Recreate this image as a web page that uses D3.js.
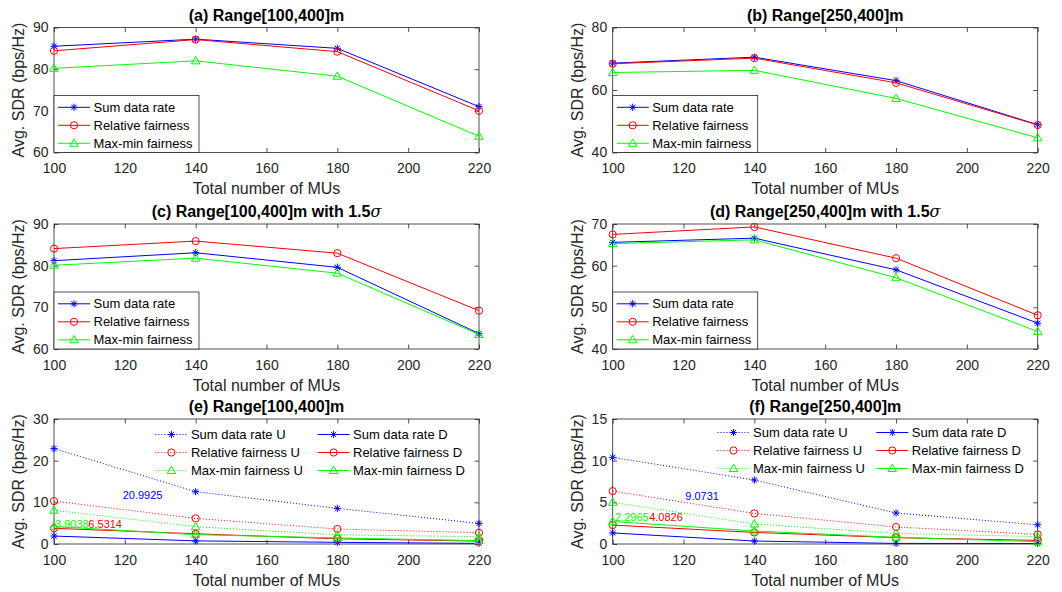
<!DOCTYPE html>
<html>
<head>
<meta charset="utf-8">
<script src="https://cdn.jsdelivr.net/npm/d3@7"></script>
<style>
  html, body { margin: 0; padding: 0; background: #fff; }
  svg { display: block; font-family: "Liberation Sans", Arial, Helvetica, sans-serif; }
</style>
</head>
<body>
<div id="chart"></div>
<script>
// ---- data ----
const mus = [100, 140, 180, 220];
const muTicks = [100, 120, 140, 160, 180, 200, 220];

// (a) Range[100,400]m
const sumRateA = [85.5, 87.2, 85.0, 71.0];
const relFairA = [84.4, 87.1, 84.2, 70.0];
const maxMinA  = [80.2, 82.0, 78.3, 63.9];
const yTicksA  = [60, 70, 80, 90];

// (b) Range[250,400]m
const sumRateB = [68.6, 70.5, 63.0, 48.9];
const relFairB = [68.4, 70.2, 62.3, 48.8];
const maxMinB  = [65.6, 66.3, 57.3, 44.7];
const yTicksB  = [40, 60, 80];

// (c) Range[100,400]m with 1.5 sigma
const sumRateC = [81.2, 83.1, 79.6, 63.7];
const relFairC = [84.1, 85.9, 83.0, 69.2];
const maxMinC  = [80.1, 81.8, 78.2, 63.5];
const yTicksC  = [60, 70, 80, 90];

// (d) Range[250,400]m with 1.5 sigma
const sumRateD = [65.6, 66.6, 59.0, 46.2];
const relFairD = [67.5, 69.3, 61.8, 48.1];
const maxMinD  = [65.3, 66.2, 57.1, 44.2];
const yTicksD  = [40, 50, 60, 70];

// (e) Range[100,400]m, uplink (U) and downlink (D)
const sumRateUpE = [22.9, 12.55, 8.55, 4.95];
const relFairUpE = [10.3, 6.15, 3.6, 2.7];
const maxMinUpE  = [8.1, 4.15, 2.2, 1.75];
const sumRateDnE = [1.9075, 0.75, 0.4, 0.15];
const relFairDnE = [3.7686, 2.45, 1.25, 0.7];
const maxMinDnE  = [4.1962, 2.25, 1.45, 0.8];
const yTicksE    = [0, 10, 20, 30];
const gapLabelsE = ["20.9925", "3.9038", "6.5314"];

// (f) Range[250,400]m, uplink (U) and downlink (D)
const sumRateUpF = [10.4, 7.68, 3.72, 2.3];
const relFairUpF = [6.35, 3.67, 2.04, 1.15];
const maxMinUpF  = [5.0, 2.4, 1.27, 0.88];
const sumRateDnF = [1.3269, 0.36, 0.07, 0.06];
const relFairDnF = [2.2674, 1.39, 0.76, 0.43];
const maxMinDnF  = [2.7035, 1.56, 0.8, 0.28];
const yTicksF    = [0, 5, 10, 15];
const gapLabelsF = ["9.0731", "2.2965", "4.0826"];

const seriesNames = ["Sum data rate", "Relative fairness", "Max-min fairness"];
const seriesColors = ["#0000ff", "#ff0000", "#00ff00"];
const seriesMarkers = ["star", "circle", "triangle"];

// ---- layout ----
const W = 1062, H = 592;
const AW = 425, AH = 125;
const colLeft = [54, 612.7];
const rowTop = [27.5, 224, 419];
const INK = "#262626";

const svg = d3.select("#chart").append("svg")
  .attr("width", W).attr("height", H)
  .attr("viewBox", `0 0 ${W} ${H}`);
svg.append("rect").attr("width", W).attr("height", H).attr("fill", "#fff");

function triple(a, b, c) {
  return [a, b, c].map((v, i) => ({
    name: seriesNames[i], values: v, color: seriesColors[i],
    marker: seriesMarkers[i], dotted: false
  }));
}
function updown(su, ru, mu, sd, rd, md) {
  const ups = [su, ru, mu].map((v, i) => ({
    name: seriesNames[i] + " U", values: v, color: seriesColors[i],
    marker: seriesMarkers[i], dotted: true
  }));
  const downs = [sd, rd, md].map((v, i) => ({
    name: seriesNames[i] + " D", values: v, color: seriesColors[i],
    marker: seriesMarkers[i], dotted: false
  }));
  return ups.concat(downs);
}

const panels = [
  { title: "(a) Range[100,400]m", sigma: false, col: 0, row: 0,
    yDomain: [60, 90], yTicks: yTicksA, series: triple(sumRateA, relFairA, maxMinA),
    legend: "box" },
  { title: "(b) Range[250,400]m", sigma: false, col: 1, row: 0,
    yDomain: [40, 80], yTicks: yTicksB, series: triple(sumRateB, relFairB, maxMinB),
    legend: "box" },
  { title: "(c) Range[100,400]m with 1.5", sigma: true, col: 0, row: 1,
    yDomain: [60, 90], yTicks: yTicksC, series: triple(sumRateC, relFairC, maxMinC),
    legend: "box" },
  { title: "(d) Range[250,400]m with 1.5", sigma: true, col: 1, row: 1,
    yDomain: [40, 70], yTicks: yTicksD, series: triple(sumRateD, relFairD, maxMinD),
    legend: "box" },
  { title: "(e) Range[100,400]m", sigma: false, col: 0, row: 2,
    yDomain: [0, 30], yTicks: yTicksE,
    series: updown(sumRateUpE, relFairUpE, maxMinUpE, sumRateDnE, relFairDnE, maxMinDnE),
    legend: "cols", legendCols: [{ s: 101.4, t: 136.9 }, { s: 263.6, t: 299 }], legendRows: [15.5, 33.5, 51.5],
    notes: [
      { text: gapLabelsE[0], color: "#0000ff", at: [119.4, 11.8] },
      { text: gapLabelsE[1], color: "#00ff00", at: [100.3, 4.8] },
      { text: gapLabelsE[2], color: "#ff0000", at: [109.7, 4.8] }
    ] },
  { title: "(f) Range[250,400]m", sigma: false, col: 1, row: 2,
    yDomain: [0, 15], yTicks: yTicksF,
    series: updown(sumRateUpF, relFairUpF, maxMinUpF, sumRateDnF, relFairDnF, maxMinDnF),
    legend: "cols", legendCols: [{ s: 104.8, t: 140.3 }, { s: 263.6, t: 299.1 }], legendRows: [13.5, 31.5, 49.5],
    notes: [
      { text: gapLabelsF[0], color: "#0000ff", at: [120.5, 5.8] },
      { text: gapLabelsF[1], color: "#00ff00", at: [100.65, 3.28] },
      { text: gapLabelsF[2], color: "#ff0000", at: [110.3, 3.28] }
    ] }
];

function drawMarker(g, type, cx, cy, color) {
  const m = g.append("g").attr("transform", `translate(${cx},${cy})`)
    .attr("fill", "none").attr("stroke", color).attr("stroke-width", 1);
  if (type === "star") {
    const r = 3.6, d = r * 0.72;
    m.append("path").attr("d",
      `M${-r},0H${r}M0,${-r}V${r}M${-d},${-d}L${d},${d}M${-d},${d}L${d},${-d}`);
  } else if (type === "circle") {
    m.append("circle").attr("r", 3.6);
  } else {
    m.append("path").attr("d", "M0,-4.4L4.2,3L-4.2,3Z");
  }
}

panels.forEach(p => {
  const left = colLeft[p.col], top = rowTop[p.row];
  const x = d3.scaleLinear().domain([100, 220]).range([left, left + AW]);
  const y = d3.scaleLinear().domain(p.yDomain).range([top + AH, top]);
  const g = svg.append("g");

  // axes with inward ticks on all four sides
  const tickStyle = sel => {
    sel.select(".domain").remove();
    sel.selectAll(".tick line").attr("stroke", INK).attr("stroke-width", 0.8);
    sel.selectAll(".tick text").attr("fill", INK).attr("font-size", 14)
      .attr("font-family", "Liberation Sans, Arial, sans-serif");
  };
  g.append("g").attr("transform", `translate(0,${top + AH})`)
    .call(d3.axisBottom(x).tickValues(muTicks).tickFormat(d3.format("d"))
      .tickSizeInner(-4.5).tickSizeOuter(0).tickPadding(11))
    .call(tickStyle);
  g.append("g").attr("transform", `translate(0,${top})`)
    .call(d3.axisTop(x).tickValues(muTicks).tickFormat("")
      .tickSizeInner(-4.5).tickSizeOuter(0))
    .call(tickStyle);
  g.append("g").attr("transform", `translate(${left},0)`)
    .call(d3.axisLeft(y).tickValues(p.yTicks).tickFormat(d3.format("d"))
      .tickSizeInner(-4.5).tickSizeOuter(0).tickPadding(5.5))
    .call(tickStyle);
  g.append("g").attr("transform", `translate(${left + AW},0)`)
    .call(d3.axisRight(y).tickValues(p.yTicks).tickFormat("")
      .tickSizeInner(-4.5).tickSizeOuter(0))
    .call(tickStyle);
  g.append("rect").attr("x", left).attr("y", top).attr("width", AW).attr("height", AH)
    .attr("fill", "none").attr("stroke", INK).attr("stroke-width", 0.8);

  // series lines and markers
  const line = d3.line().x((d, i) => x(mus[i])).y(d => y(d));
  p.series.forEach(s => {
    g.append("path").datum(s.values).attr("d", line)
      .attr("fill", "none").attr("stroke", s.color).attr("stroke-width", 1)
      .attr("stroke-dasharray", s.dotted ? "1,2" : null);
    s.values.forEach((v, i) => drawMarker(g, s.marker, x(mus[i]), y(v), s.color));
  });

  // annotations
  (p.notes || []).forEach(n => {
    g.append("text").attr("x", x(n.at[0])).attr("y", y(n.at[1]))
      .attr("dy", "0.35em").attr("font-size", 11).attr("fill", n.color).text(n.text);
  });

  // title
  const t = g.append("text").attr("x", left + AW / 2).attr("y", top - 6.7)
    .attr("text-anchor", "middle").attr("font-size", 16).attr("font-weight", "bold")
    .attr("fill", "#000").text(p.title);
  if (p.sigma) {
    t.append("tspan").attr("font-style", "italic").attr("font-weight", "normal")
      .attr("font-family", "DejaVu Serif, serif").text("\u03C3");
  }

  // axis labels
  g.append("text").attr("x", left + AW / 2).attr("y", top + AH + 41.5)
    .attr("text-anchor", "middle").attr("font-size", 16).attr("fill", INK)
    .text("Total number of MUs");
  g.append("text")
    .attr("transform", `translate(${left - 29.7},${top + AH / 2}) rotate(-90)`)
    .attr("text-anchor", "middle").attr("font-size", 16).attr("fill", INK)
    .text("Avg. SDR (bps/Hz)");

  // legend
  if (p.legend === "box") {
    const lh = 57, lw = 145;
    const ly = top + AH - lh;
    g.append("rect").attr("x", left).attr("y", ly).attr("width", lw).attr("height", lh)
      .attr("fill", "#fff").attr("stroke", INK).attr("stroke-width", 0.8);
    p.series.forEach((s, i) => {
      const cy = ly + 11.8 + i * 18;
      g.append("line").attr("x1", left + 4).attr("x2", left + 36)
        .attr("y1", cy).attr("y2", cy).attr("stroke", s.color).attr("stroke-width", 1);
      drawMarker(g, s.marker, left + 20, cy, s.color);
      g.append("text").attr("x", left + 39.5).attr("y", cy).attr("dy", "0.35em")
        .attr("font-size", 13).attr("fill", "#000").text(s.name);
    });
  } else {
    p.series.forEach((s, i) => {
      const c = p.legendCols[Math.floor(i / 3)];
      const cy = top + p.legendRows[i % 3];
      g.append("line").attr("x1", left + c.s).attr("x2", left + c.s + 32)
        .attr("y1", cy).attr("y2", cy).attr("stroke", s.color).attr("stroke-width", 1)
        .attr("stroke-dasharray", s.dotted ? "1,2" : null);
      drawMarker(g, s.marker, left + c.s + 16, cy, s.color);
      g.append("text").attr("x", left + c.t).attr("y", cy).attr("dy", "0.35em")
        .attr("font-size", 13).attr("fill", "#000").text(s.name);
    });
  }
});
</script>
</body>
</html>
